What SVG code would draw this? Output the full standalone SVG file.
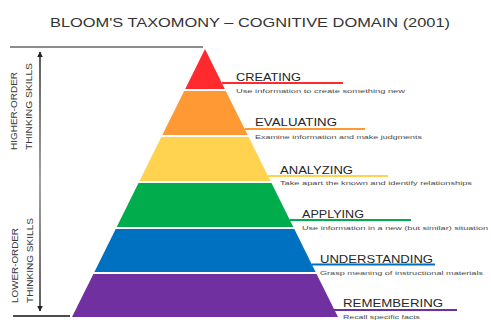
<svg xmlns="http://www.w3.org/2000/svg" width="491" height="320" viewBox="0 0 491 320">
  <defs>
    <style>
      .title { font-family: "Liberation Sans", Arial, sans-serif; font-size: 13.5px; fill: #333; }
      .side { font-family: "Liberation Sans", Arial, sans-serif; font-size: 9px; fill: #3a3a3a; }
      .label { font-family: "Liberation Sans", Arial, sans-serif; font-size: 11px; fill: #262626; }
      .desc { font-family: "Liberation Sans", Arial, sans-serif; font-size: 6px; fill: #4a4a4a; }
      .rule { stroke-width: 2.2; fill: none; }
    </style>
    <marker id="arrowHead" viewBox="0 0 10 10" refX="9" refY="5" markerUnits="userSpaceOnUse" markerWidth="6" markerHeight="6" orient="auto-start-reverse">
      <path d="M0,0 L10,5 L0,10 z" fill="#222"/>
    </marker>
    <linearGradient id="axisShade" gradientUnits="userSpaceOnUse" x1="40" y1="52" x2="40" y2="311">
      <stop offset="0" stop-color="#333"/>
      <stop offset="0.5" stop-color="#8a8a8a"/>
      <stop offset="1" stop-color="#333"/>
    </linearGradient>
  </defs>

  <rect width="491" height="320" fill="#ffffff"/>

  <text class="title" x="250" y="27" text-anchor="middle" textLength="400" lengthAdjust="spacingAndGlyphs">BLOOM'S TAXOMONY – COGNITIVE DOMAIN (2001)</text>

  <!-- thinking-skills axis -->
  <g id="axis">
    <line x1="10" y1="47" x2="203" y2="47" stroke="#666" stroke-width="1.3"/>
    <line x1="13" y1="316" x2="70" y2="316" stroke="#111" stroke-width="1.5"/>
    <line x1="40" y1="52" x2="40" y2="311" stroke="url(#axisShade)" stroke-width="1.6" marker-start="url(#arrowHead)" marker-end="url(#arrowHead)"/>
    <text class="side" transform="translate(17,150) rotate(-90)" textLength="78" lengthAdjust="spacingAndGlyphs">HIGHER-ORDER</text>
    <text class="side" transform="translate(32,150) rotate(-90)" textLength="87" lengthAdjust="spacingAndGlyphs">THINKING SKILLS</text>
    <text class="side" transform="translate(18,303) rotate(-90)" textLength="75" lengthAdjust="spacingAndGlyphs">LOWER-ORDER</text>
    <text class="side" transform="translate(33,303) rotate(-90)" textLength="85" lengthAdjust="spacingAndGlyphs">THINKING SKILLS</text>
  </g>

  <!-- pyramid tiers, apex (205,49), slope 0.496 -->
  <g id="creating">
    <polygon points="205,49 224.8,89 185.2,89" fill="#FF2A2E"/>
  </g>
  <g id="evaluating">
    <polygon points="184.2,91 225.8,91 247.7,135 162.3,135" fill="#FF9933"/>
  </g>
  <g id="analyzing">
    <polygon points="161.3,137 248.7,137 270.5,181 139.5,181" fill="#FFD24F"/>
  </g>
  <g id="applying">
    <polygon points="138.5,183 271.5,183 293.3,227 116.7,227" fill="#00AC4C"/>
  </g>
  <g id="understanding">
    <polygon points="115.7,229 294.3,229 315.6,272 94.4,272" fill="#0070C0"/>
  </g>
  <g id="remembering">
    <polygon points="93.4,274 316.6,274 338,317 72,317" fill="#7030A0"/>
  </g>

  <!-- tier callouts -->
  <g id="connectors">
    <line class="rule" x1="222" y1="83" x2="343" y2="83" stroke="#FF2A2E"/>
    <line class="rule" x1="244.7" y1="129" x2="365" y2="129" stroke="#FF9933"/>
    <line class="rule" x1="268" y1="176" x2="388" y2="176" stroke="#FFD24F"/>
    <line class="rule" x1="289.7" y1="220" x2="411" y2="220" stroke="#00AC4C"/>
    <line class="rule" x1="311.6" y1="264.5" x2="435" y2="264.5" stroke="#0070C0"/>
    <line class="rule" x1="334" y1="310" x2="457" y2="310" stroke="#7030A0"/>
  </g>

  <g id="labels">
    <text class="label" x="236" y="81" textLength="65" lengthAdjust="spacingAndGlyphs">CREATING</text>
    <text class="desc" x="236" y="92.5" textLength="169" lengthAdjust="spacingAndGlyphs">Use information to create something new</text>

    <text class="label" x="255" y="126" textLength="82" lengthAdjust="spacingAndGlyphs">EVALUATING</text>
    <text class="desc" x="255" y="139" textLength="167" lengthAdjust="spacingAndGlyphs">Examine information and make judgments</text>

    <text class="label" x="280" y="174" textLength="73" lengthAdjust="spacingAndGlyphs">ANALYZING</text>
    <text class="desc" x="280" y="185" textLength="192" lengthAdjust="spacingAndGlyphs">Take apart the known and identify relationships</text>

    <text class="label" x="302" y="217.5" textLength="62" lengthAdjust="spacingAndGlyphs">APPLYING</text>
    <text class="desc" x="302" y="229.5" textLength="186" lengthAdjust="spacingAndGlyphs">Use information in a new (but similar) situation</text>

    <text class="label" x="320" y="262.5" textLength="113" lengthAdjust="spacingAndGlyphs">UNDERSTANDING</text>
    <text class="desc" x="320" y="274.5" textLength="163" lengthAdjust="spacingAndGlyphs">Grasp meaning of instructional materials</text>

    <text class="label" x="343" y="307" textLength="100" lengthAdjust="spacingAndGlyphs">REMEMBERING</text>
    <text class="desc" x="343" y="319" textLength="77" lengthAdjust="spacingAndGlyphs">Recall specific facts</text>
  </g>
</svg>
